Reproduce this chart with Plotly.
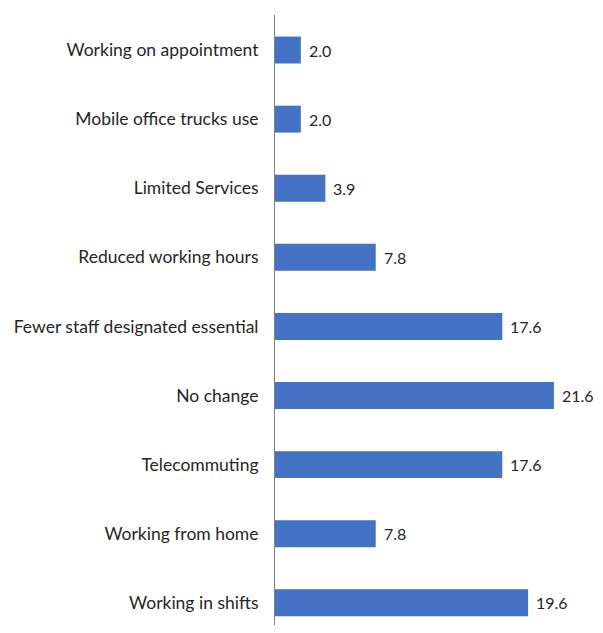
import plotly.graph_objects as go

categories = [
    "Working on appointment",
    "Mobile office trucks use",
    "Limited Services",
    "Reduced working hours",
    "Fewer staff designated essential",
    "No change",
    "Telecommuting",
    "Working from home",
    "Working in shifts",
]
values = [2.0, 2.0, 3.9, 7.8, 17.6, 21.6, 17.6, 7.8, 19.6]

FONT = "Lato"
SIZE = 17.5
TXT = "#262626"

fig = go.Figure(go.Bar(
    x=values, y=categories, orientation="h",
    marker=dict(color="#4472C4", line=dict(width=0)),
    width=0.39,
))

for c, v in zip(categories, values):
    fig.add_annotation(x=v, y=c, text=f"{v:.1f}", showarrow=False,
                       xanchor="left", xshift=6, font=dict(family=FONT, size=16, color=TXT))

fig.update_layout(
    width=595, height=617,
    margin=dict(l=267, r=0, t=7, b=0),
    plot_bgcolor="white", paper_bgcolor="white",
    showlegend=False,
    font=dict(family=FONT, size=SIZE, color=TXT),
)
fig.update_xaxes(range=[0, 25.4], visible=False)
fig.update_yaxes(categoryorder="array", categoryarray=categories[::-1],
                 range=[-0.321, 8.507], showline=True, linecolor="#808080", linewidth=1,
                 showgrid=False, ticks="", ticklabelstandoff=12,
                 tickfont=dict(family=FONT, size=SIZE, color=TXT))

fig.write_html("out.html")
